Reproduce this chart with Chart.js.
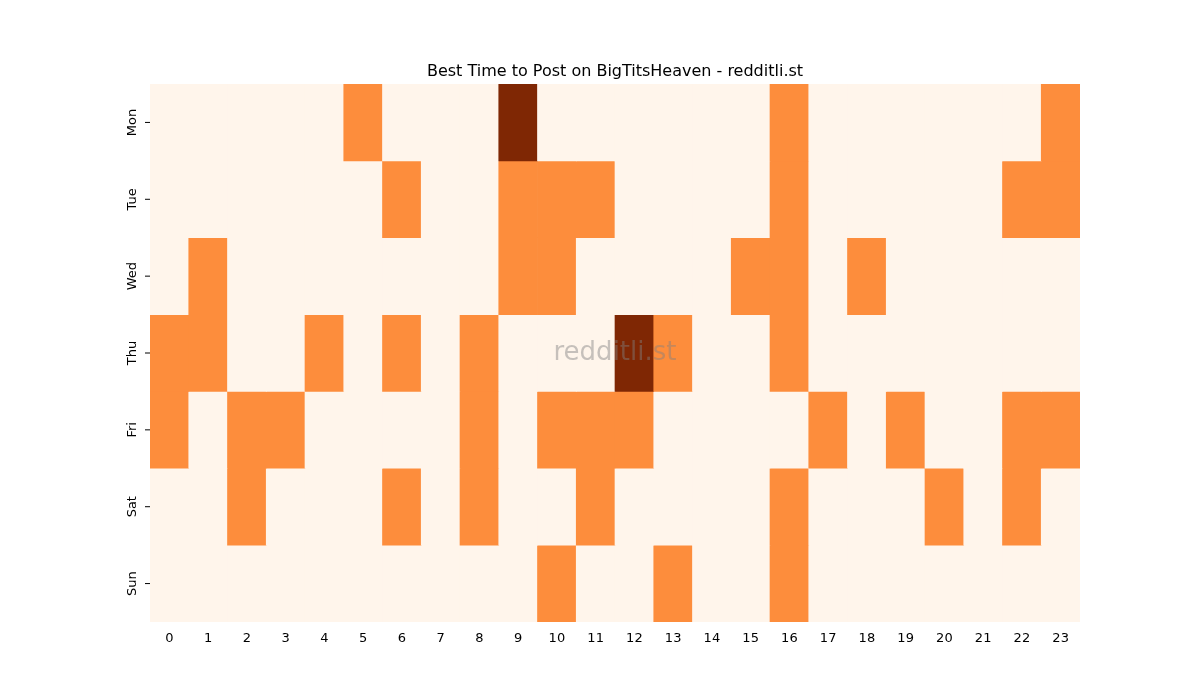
<!DOCTYPE html>
<html><head><meta charset="utf-8">
<script src="https://cdn.jsdelivr.net/npm/chart.js@4"></script>
<style>body{margin:0;background:#fff}#wrap{width:1200px;height:700px}</style>
</head><body><div id="wrap"><canvas id="c"></canvas></div>
<script>
const HOURS = Array.from({ length: 24 }, (_, i) => String(i));
const DAYS = ["Mon", "Tue", "Wed", "Thu", "Fri", "Sat", "Sun"];
// 0 = none, 1 = good, 2 = best
const MON = [0,0,0,0,0,1,0,0,0,2,0,0,0,0,0,0,1,0,0,0,0,0,0,1];
const TUE = [0,0,0,0,0,0,1,0,0,1,1,1,0,0,0,0,1,0,0,0,0,0,1,1];
const WED = [0,1,0,0,0,0,0,0,0,1,1,0,0,0,0,1,1,0,1,0,0,0,0,0];
const THU = [1,1,0,0,1,0,1,0,1,0,0,0,2,1,0,0,1,0,0,0,0,0,0,0];
const FRI = [1,0,1,1,0,0,0,0,1,0,1,1,1,0,0,0,0,1,0,1,0,0,1,1];
const SAT = [0,0,1,0,0,0,1,0,1,0,0,1,0,0,0,0,1,0,0,0,1,0,1,0];
const SUN = [0,0,0,0,0,0,0,0,0,0,1,0,0,1,0,0,1,0,0,0,0,0,0,0];
const ROWS = [MON, TUE, WED, THU, FRI, SAT, SUN];
const COLORS = ["#fff5eb", "#fd8d3c", "#7f2704"];
const FONT = "'DejaVu Sans', sans-serif";

const datasets = ROWS.map((row, d) => ({
  label: DAYS[d],
  data: row.map(() => [d, d + 1]),
  backgroundColor: row.map((v) => COLORS[v]),
  borderWidth: 0,
  barPercentage: 1,
  categoryPercentage: 1,
  grouped: false,
}));

const extras = {
  id: "extras",
  afterDraw(chart) {
    const { ctx, chartArea: a } = chart;
    const y = chart.scales.y;
    ctx.save();
    ctx.fillStyle = "#000";
    ctx.font = "16px " + FONT;
    ctx.textAlign = "center";
    ctx.textBaseline = "alphabetic";
    ctx.fillText("Best Time to Post on BigTitsHeaven - redditli.st", (a.left + a.right) / 2, 76);
    ctx.font = "13px " + FONT;
    ctx.strokeStyle = "#000";
    ctx.lineWidth = 1;
    DAYS.forEach((d, i) => {
      const py = y.getPixelForValue(i + 0.5);
      ctx.beginPath(); ctx.moveTo(a.left - 5, py); ctx.lineTo(a.left, py); ctx.stroke();
      ctx.save();
      ctx.translate(a.left - 17, py);
      ctx.rotate(-Math.PI / 2);
      ctx.textAlign = "center";
      ctx.textBaseline = "middle";
      ctx.fillText(d, 0, 0);
      ctx.restore();
    });
    ctx.font = "26px " + FONT;
    ctx.fillStyle = "rgba(128,128,128,0.45)";
    ctx.textAlign = "center";
    ctx.textBaseline = "middle";
    ctx.fillText("redditli.st", (a.left + a.right) / 2, (a.top + a.bottom) / 2);
    ctx.restore();
  },
};

new Chart(document.getElementById("c"), {
  type: "bar",
  data: { labels: HOURS, datasets },
  options: {
    responsive: true,
    maintainAspectRatio: false,
    animation: false,
    layout: { padding: { left: 150, right: 120, top: 84, bottom: 0 } },
    plugins: { legend: { display: false }, tooltip: { enabled: false } },
    scales: {
      x: {
        grid: { display: false, drawTicks: true, tickLength: 5 },
        border: { display: false },
        ticks: { color: "#000", font: { family: FONT, size: 13 }, maxRotation: 0, padding: 4 },
        afterFit: (s) => { s.height = 78; },
      },
      y: { display: false, reverse: true, min: 0, max: 7 },
    },
  },
  plugins: [extras],
});
</script></body></html>
